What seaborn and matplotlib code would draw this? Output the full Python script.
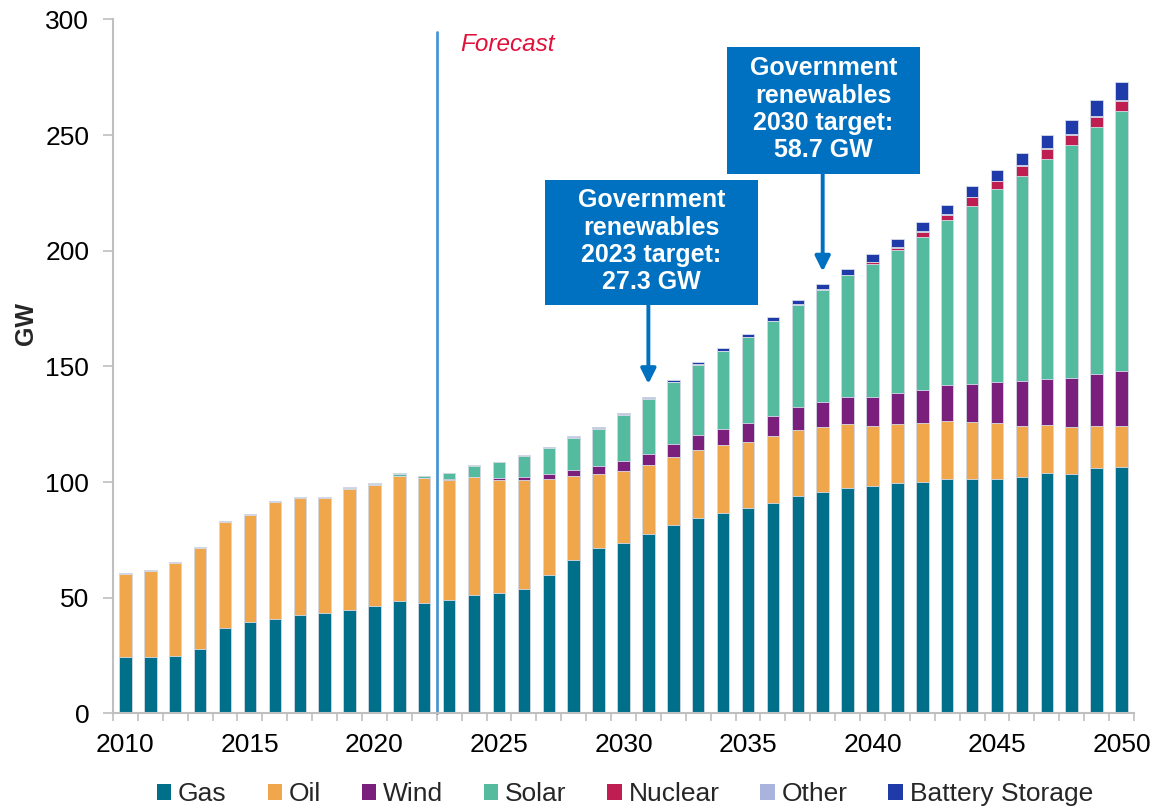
import matplotlib
matplotlib.use("Agg")
import matplotlib.pyplot as plt
from matplotlib.patches import Patch, Rectangle
import numpy as np
import pandas as pd
import seaborn as sns

# Installed capacity by technology, GW (2010-2022 actual, 2023-2050 forecast)
years = list(range(2010, 2051))
gas = [24.3, 24.3, 24.8, 28.0, 36.9, 39.5, 40.8, 42.7, 43.5, 44.7, 46.4, 48.7, 47.7,
       49.1, 51.0, 52.2, 53.6, 60.0, 66.1, 71.7, 73.5, 77.6, 81.5, 84.6, 86.5, 88.7,
       91.0, 94.0, 95.7, 97.5, 98.2, 99.5, 100.0, 101.4, 101.4, 101.4, 102.0, 103.9,
       103.3, 105.9, 106.6]
oil = [36.0, 37.1, 40.2, 43.5, 45.9, 46.1, 50.4, 50.5, 49.7, 52.4, 52.3, 54.1, 53.9,
       51.9, 51.0, 48.7, 47.3, 41.4, 36.6, 31.6, 31.4, 29.9, 29.3, 29.3, 29.4, 28.8,
       28.9, 28.5, 28.1, 27.5, 26.2, 25.5, 25.4, 24.9, 24.5, 24.0, 22.4, 20.7, 20.5,
       18.3, 17.5]
wind = [0, 0, 0, 0, 0, 0, 0, 0, 0, 0, 0, 0, 0,
        0.4, 0.3, 0.9, 1.3, 2.2, 2.6, 3.5, 4.0, 4.8, 5.6, 6.5, 7.2, 8.2,
        8.7, 9.9, 10.8, 11.6, 12.5, 13.6, 14.6, 15.6, 16.5, 17.9, 19.1, 20.0, 21.3,
        22.6, 24.0]
solar = [0, 0, 0, 0, 0, 0, 0, 0, 0, 0.5, 0.6, 0.6, 0.8,
         2.3, 4.7, 6.7, 9.0, 11.0, 13.9, 16.3, 20.1, 23.6, 26.7, 30.3, 33.4, 36.8,
         40.9, 44.3, 48.4, 52.8, 57.2, 61.6, 66.1, 71.4, 77.1, 83.2, 89.0, 94.9,
         100.5, 106.6, 112.2]
nuclear = [0, 0, 0, 0, 0, 0, 0, 0, 0, 0, 0, 0, 0,
           0, 0, 0, 0, 0, 0, 0, 0, 0, 0, 0, 0, 0,
           0, 0, 0, 0, 0.9, 0.9, 2.1, 2.2, 3.5, 3.5, 4.2, 4.4, 4.5, 4.5, 4.5]
other = [0.4, 0.4, 0.4, 0.4, 0.4, 0.4, 0.4, 0.4, 0.4, 0.4, 0.4, 0.4, 0.4,
         0.3, 0.3, 0.3, 0.3, 0.3, 0.3, 0.3, 0.3, 0.3, 0.3, 0.3, 0.3, 0.3,
         0.3, 0.3, 0.3, 0.3, 0.3, 0.3, 0.3, 0.3, 0.3, 0.3, 0.3, 0.3, 0.3, 0.3, 0.3]
battery = [0, 0, 0, 0, 0, 0, 0, 0, 0, 0, 0, 0, 0,
           0, 0, 0, 0, 0.3, 0.4, 0.4, 0.6, 0.7, 0.8, 0.9, 1.1, 1.4,
           1.4, 1.9, 2.2, 2.3, 3.2, 3.5, 3.8, 4.1, 4.6, 4.8, 5.3, 5.7, 6.2, 7.0, 7.8]

series = ["Gas", "Oil", "Wind", "Solar", "Nuclear", "Other", "Battery Storage"]
colors = ["#006F8A", "#F0A64A", "#7B1F7D", "#55BB9F", "#BF1E50", "#A9B4DE", "#1F3BAA"]

df = pd.DataFrame({"year": [str(y) for y in years], "Gas": gas, "Oil": oil,
                   "Wind": wind, "Solar": solar, "Nuclear": nuclear,
                   "Other": other, "Battery Storage": battery})
cum = df[series].cumsum(axis=1)
cum["year"] = df["year"]

sns.set_style("white")
plt.rcParams["font.family"] = ["Liberation Sans", "DejaVu Sans"]

fig = plt.figure(figsize=(11.55, 8.07), dpi=100)
ax = fig.add_axes([0.0978, 0.116, 0.884, 0.860])

# Stacked bars: draw running totals from the top layer down
for name, col in reversed(list(zip(series, colors))):
    sns.barplot(data=cum, x="year", y=name, color=col, saturation=1, width=0.5,
                edgecolor="#d6dce8", linewidth=0.6, errorbar=None, ax=ax)

ax.set_xlim(-0.5, len(years) - 0.5)
ax.set_ylim(0, 300)
ax.set_yticks(np.arange(0, 301, 50))
ax.set_xticks(np.arange(0, len(years), 5))
ax.set_xticklabels([str(y) for y in years[::5]])
ax.set_xticks(np.arange(-0.5, len(years), 1), minor=True)
ax.tick_params(axis="x", which="major", length=0, pad=14, labelsize=19, colors="black")
ax.tick_params(axis="x", which="minor", length=6, width=1.2, color="#BFBFBF", direction="out")
ax.tick_params(axis="y", which="major", length=7, width=1.2, color="#BFBFBF",
               direction="out", pad=10, labelsize=19, labelcolor="black")
ax.xaxis.set_ticks_position("bottom")
ax.yaxis.set_ticks_position("left")
for s in ["top", "right"]:
    ax.spines[s].set_visible(False)
for s in ["left", "bottom"]:
    ax.spines[s].set_color("#BFBFBF")
    ax.spines[s].set_linewidth(1.5)
ax.set_xlabel("")
ax.set_ylabel("GW", fontsize=18, fontweight="bold")
ax.yaxis.set_label_coords(-0.073, 0.562)

# Forecast divider
ax.plot([12.5, 12.5], [0, 294.5], color="#4A96D2", lw=2, clip_on=False)
ax.text(13.45, 289, "Forecast", color="#E0123C", fontsize=17.5, style="italic",
        ha="left", va="center")

# Target call-outs
boxes = [
    (16.85, 176.4, 25.4, 230.7, 21, 142.4,
     "Government\nrenewables\n2023 target:\n27.3 GW"),
    (24.15, 233.3, 31.9, 288.0, 28, 191.0,
     "Government\nrenewables\n2030 target:\n58.7 GW"),
]
for x0, y0, x1, y1, ax_x, tip_y, txt in boxes:
    ax.add_patch(Rectangle((x0, y0), x1 - x0, y1 - y0, facecolor="#0070C0",
                           edgecolor="none", zorder=5))
    ax.text((x0 + x1) / 2, (y0 + y1) / 2 + 0.5, txt, color="white", fontsize=18,
            fontweight="bold", ha="center", va="center", linespacing=1.17, zorder=6)
    ax.annotate("", xy=(ax_x, tip_y), xytext=(ax_x, y0),
                arrowprops=dict(arrowstyle="-|>,head_length=0.9,head_width=0.45",
                                color="#0070C0", lw=2.8, shrinkA=0, shrinkB=0),
                zorder=6)

handles = [Patch(facecolor=c, edgecolor="none") for c in colors]
fig.legend(handles, series, loc="center", bbox_to_anchor=(0.541, 0.016), ncol=7,
           frameon=False, fontsize=19, handlelength=0.55, handleheight=0.55,
           handletextpad=0.25, columnspacing=1.55, borderaxespad=0)

fig.savefig("out.png", dpi=100)
